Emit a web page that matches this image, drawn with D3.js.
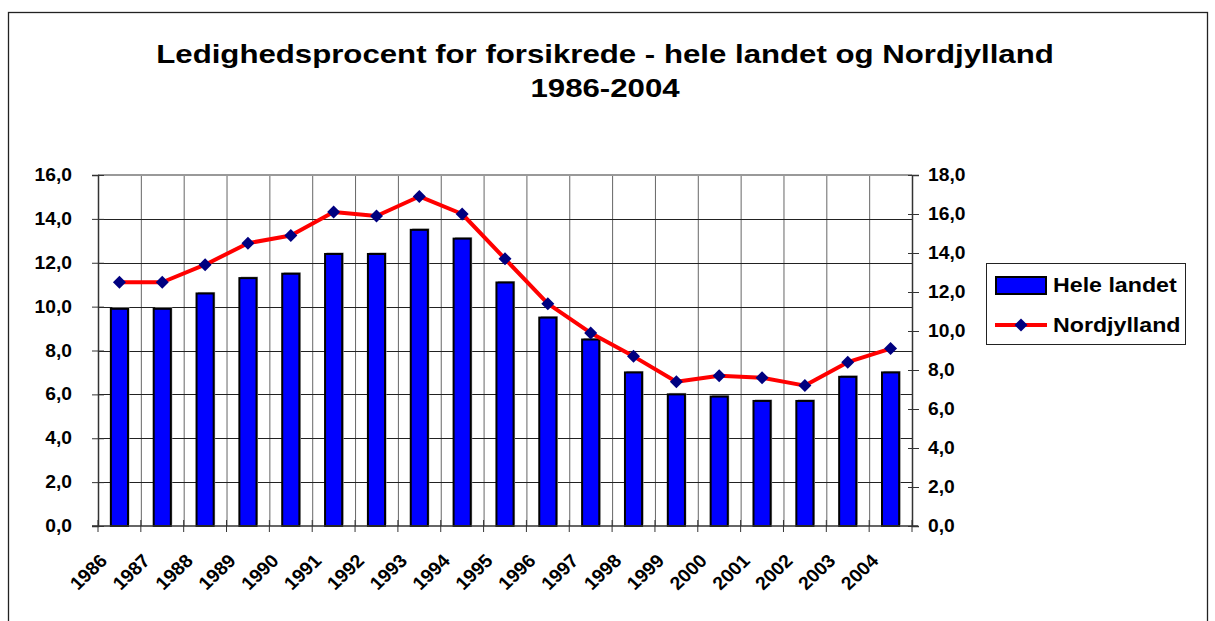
<!DOCTYPE html>
<html>
<head>
<meta charset="utf-8">
<script src="https://cdn.jsdelivr.net/npm/d3@7"></script>
<style>
  body { margin: 0; background: #fff; }
  text { font-family: "Liberation Sans", Arial, sans-serif; font-weight: bold; fill: #000; }
</style>
</head>
<body>
<svg id="chart" width="1215" height="621"></svg>
<script>
// Data.
var years = [1986, 1987, 1988, 1989, 1990, 1991, 1992, 1993, 1994, 1995,
             1996, 1997, 1998, 1999, 2000, 2001, 2002, 2003, 2004];
var heleLandet = [9.9, 9.9, 10.6, 11.3, 11.5, 12.4, 12.4, 13.5, 13.1, 11.1,
                  9.5, 8.5, 7.0, 6.0, 5.9, 5.7, 5.7, 6.8, 7.0];
var nordjylland = [12.5, 12.5, 13.4, 14.5, 14.9, 16.1, 15.9, 16.9, 16.0, 13.7,
                   11.4, 9.9, 8.7, 7.4, 7.7, 7.6, 7.2, 8.4, 9.1];
var leftTicks = [0, 2, 4, 6, 8, 10, 12, 14, 16];
var rightTicks = [0, 2, 4, 6, 8, 10, 12, 14, 16, 18];
var titleLines = ["Ledighedsprocent for forsikrede - hele landet og Nordjylland", "1986-2004"];
var seriesNames = ["Hele landet", "Nordjylland"];

var svg = d3.select('#chart');

var plot = { left: 98, right: 912, top: 175, bottom: 526 };
var stretch = 1.14; // text in the picture is drawn a bit wide

var fmt = function(v) { return v.toFixed(1).replace('.', ','); };

var x = d3.scaleBand()
    .domain(years)
    .range([plot.left, plot.right])
    .padding(0);
var bw = x.bandwidth();
var barW = bw / 2.5;

var yL = d3.scaleLinear().domain([0, 16]).range([plot.bottom, plot.top]);
var yR = d3.scaleLinear().domain([0, 18]).range([plot.bottom, plot.top]);

// Outer frame (cut off at the bottom).
svg.append('rect')
    .attr('x', 8.5).attr('y', 12.5)
    .attr('width', 1199).attr('height', 700)
    .attr('fill', 'none').attr('stroke', '#222').attr('stroke-width', 1.3);

// Title.
var title = svg.append('g');
titleLines.forEach(function(t, i) {
    title.append('text')
        .attr('transform', 'translate(605,' + (63 + i * 34) + ') scale(1.2,1)')
        .attr('text-anchor', 'middle')
        .style('font-size', '26px')
        .text(t);
});

// Gridlines.
var grid = svg.append('g');
grid.selectAll('.vgrid')
    .data(years.slice(1))
    .enter().append('line')
    .attr('x1', d => x(d) + 0.5).attr('x2', d => x(d) + 0.5)
    .attr('y1', plot.top).attr('y2', plot.bottom)
    .attr('stroke', '#666').attr('stroke-width', 1);
grid.selectAll('.hgrid')
    .data(leftTicks.slice(1, -1))
    .enter().append('line')
    .attr('x1', plot.left).attr('x2', plot.right)
    .attr('y1', d => Math.round(yL(d)) + 0.5).attr('y2', d => Math.round(yL(d)) + 0.5)
    .attr('stroke', '#222').attr('stroke-width', 1);
// plot area top border
grid.append('line')
    .attr('x1', plot.left).attr('x2', plot.right)
    .attr('y1', plot.top).attr('y2', plot.top)
    .attr('stroke', '#999').attr('stroke-width', 2);

// Bars with a faint shadow.
var bars = svg.append('g');
bars.selectAll('.shadow')
    .data(heleLandet)
    .enter().append('rect')
    .attr('x', (d, i) => x(years[i]) + (bw - barW) / 2 + 1.5)
    .attr('y', d => yL(d) - 1.5)
    .attr('width', barW)
    .attr('height', d => plot.bottom - yL(d))
    .attr('fill', '#aaa');
bars.selectAll('.bar')
    .data(heleLandet)
    .enter().append('rect')
    .attr('x', (d, i) => x(years[i]) + (bw - barW) / 2)
    .attr('y', d => yL(d))
    .attr('width', barW)
    .attr('height', d => plot.bottom - yL(d))
    .attr('fill', '#0000ff')
    .attr('stroke', '#000').attr('stroke-width', 2);

// Left axis.
var axL = svg.append('g')
    .attr('transform', 'translate(' + plot.left + ',0)')
    .call(d3.axisLeft(yL).tickValues(leftTicks).tickFormat(fmt).tickSize(6).tickPadding(20));
axL.select('.domain').attr('stroke', '#333').attr('stroke-width', 1.5);
axL.selectAll('.tick line').attr('x1', 6).attr('stroke', '#333');
axL.selectAll('.tick text')
    .style('font-size', '17.5px').style('font-family', null)
    .attr('transform', function() { return 'translate(' + d3.select(this).attr('x') + ',0) scale(1.1,1)'; })
    .attr('x', 0);

// Right axis.
var axR = svg.append('g')
    .attr('transform', 'translate(' + plot.right + ',0)')
    .call(d3.axisRight(yR).tickValues(rightTicks).tickFormat(fmt).tickSize(7).tickPadding(9));
axR.select('.domain').attr('stroke', '#333').attr('stroke-width', 1.5);
axR.selectAll('.tick line').attr('x1', -4).attr('stroke', '#333');
axR.selectAll('.tick text')
    .style('font-size', '17.5px').style('font-family', null)
    .attr('transform', function() { return 'translate(' + d3.select(this).attr('x') + ',0) scale(1.1,1)'; })
    .attr('x', 0);

// Bottom axis: line, cross ticks at category borders, rotated labels.
var axB = svg.append('g');
axB.append('line')
    .attr('x1', plot.left - 6).attr('x2', plot.right + 6)
    .attr('y1', plot.bottom).attr('y2', plot.bottom)
    .attr('stroke', '#333').attr('stroke-width', 1.5);
axB.selectAll('.xtick')
    .data(years.concat([null]))
    .enter().append('line')
    .attr('x1', (d, i) => plot.left + i * bw).attr('x2', (d, i) => plot.left + i * bw)
    .attr('y1', plot.bottom - 6).attr('y2', plot.bottom + 6)
    .attr('stroke', '#333');
axB.selectAll('.xlabel')
    .data(years)
    .enter().append('text')
    .attr('text-anchor', 'end')
    .style('font-size', '18.5px')
    .attr('transform', d => 'translate(' + (x(d) + bw / 2 - 11) + ',' + 562 + ') scale(1.05,1) rotate(-45)')
    .text(d => d);

// Line series on the right axis.
var lineGen = d3.line()
    .x((d, i) => x(years[i]) + bw / 2)
    .y(d => yR(d));
svg.append('path')
    .datum(nordjylland)
    .attr('d', lineGen)
    .attr('fill', 'none')
    .attr('stroke', '#ff0000')
    .attr('stroke-width', 4)
    .attr('stroke-linejoin', 'round');

var diamond = 'M0,-6.5L6.5,0L0,6.5L-6.5,0Z';
svg.selectAll('.marker')
    .data(nordjylland)
    .enter().append('path')
    .attr('d', diamond)
    .attr('transform', (d, i) => 'translate(' + (x(years[i]) + bw / 2) + ',' + yR(d) + ')')
    .attr('fill', '#000080');

// Legend.
var lg = svg.append('g');
lg.append('rect')
    .attr('x', 986.5).attr('y', 263.5)
    .attr('width', 199).attr('height', 81)
    .attr('fill', '#fff').attr('stroke', '#222').attr('stroke-width', 1);
lg.append('rect')
    .attr('x', 996).attr('y', 277)
    .attr('width', 50).attr('height', 17)
    .attr('fill', '#0000ff').attr('stroke', '#000').attr('stroke-width', 2);
lg.append('line')
    .attr('x1', 995).attr('x2', 1047)
    .attr('y1', 325).attr('y2', 325)
    .attr('stroke', '#ff0000').attr('stroke-width', 4);
lg.append('path')
    .attr('d', diamond)
    .attr('transform', 'translate(1021,325)')
    .attr('fill', '#000080');
seriesNames.forEach(function(n, i) {
    lg.append('text')
        .attr('transform', 'translate(1053,' + (292 + i * 40) + ') scale(1.16,1)')
        .style('font-size', '20px')
        .text(n);
});
</script>
</body>
</html>
